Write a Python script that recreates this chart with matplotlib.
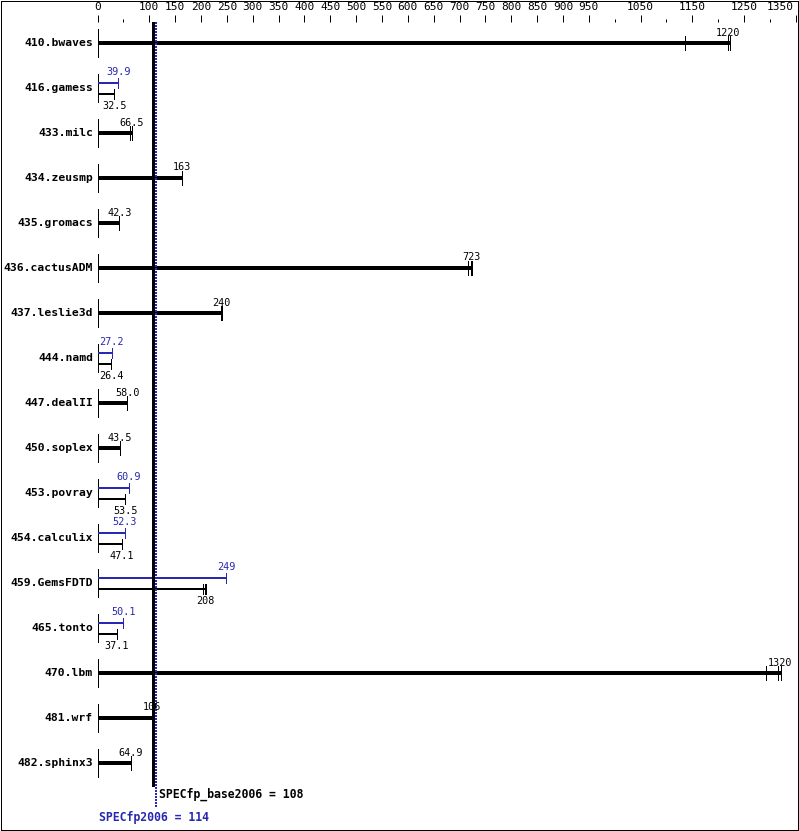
import matplotlib
matplotlib.use('Agg')
import matplotlib.pyplot as plt
from matplotlib.patches import Rectangle
from matplotlib.ticker import FixedLocator, FixedFormatter

plt.rcParams['lines.antialiased'] = False

# ---------------- data ----------------
benchmarks = ["410.bwaves", "416.gamess", "433.milc", "434.zeusmp", "435.gromacs",
              "436.cactusADM", "437.leslie3d", "444.namd", "447.dealII", "450.soplex",
              "453.povray", "454.calculix", "459.GemsFDTD", "465.tonto", "470.lbm",
              "481.wrf", "482.sphinx3"]
base_ratio = [1220, 32.5, 66.5, 163, 42.3, 723, 240, 26.4, 58.0, 43.5,
              53.5, 47.1, 208, 37.1, 1320, 106, 64.9]
base_runs = [[1136, 1220, 1222], [32.5], [63.5, 66.5, 67.0], [163], [42.3],
             [716, 723, 724], [238, 240, 241], [26.4], [58.0], [43.5],
             [53.5], [47.1], [204, 208, 209], [37.1], [1292, 1316, 1322],
             [106], [64.9]]
peak_ratio = [None, 39.9, None, None, None, None, None, 27.2, None, None,
              60.9, 52.3, 249, 50.1, None, None, None]
major_ticks = [0, 100, 150, 200, 250, 300, 350, 400, 450, 500, 550, 600, 650,
               700, 750, 800, 850, 900, 950, 1050, 1150, 1250, 1350]
minor_ticks = [50, 1000, 1100, 1200, 1300]
base_score = 108
peak_score = 114
base_label = "SPECfp_base2006 = 108"
peak_label = "SPECfp2006 = 114"

# ---------------- layout ----------------
W, H = 799, 831
PX0 = 97.5          # pixel of value 0
SLOPE = 0.5172      # pixels per unit
TOP = 22            # pixel of axes top
ROW0, STEP = 43, 45
PT = 0.72           # points per pixel
BLUE = '#2828b0'
MONO = 'DejaVu Sans Mono'

fig = plt.figure(figsize=(W / 100, H / 100), dpi=100)
fig.patch.set_facecolor('white')
left = PX0 / W
ax = fig.add_axes([left, 0, 1 - left, (H - TOP) / H])
ax.set_xlim(0, (W - PX0) / SLOPE)
ax.set_ylim((H - ROW0) / STEP, (TOP - ROW0) / STEP)
for s in ax.spines.values():
    s.set_visible(False)
ax.set_yticks([])
ax.xaxis.tick_top()
ax.xaxis.set_major_locator(FixedLocator(major_ticks))
ax.xaxis.set_major_formatter(FixedFormatter([str(t) for t in major_ticks[:-1]] + ['']))
ax.xaxis.set_minor_locator(FixedLocator(minor_ticks))
ax.tick_params(axis='x', which='major', length=7 * PT, width=PT, pad=2.5,
               labelsize=8, direction='out')
ax.tick_params(axis='x', which='minor', length=3 * PT, width=PT, direction='out')
for lab in ax.get_xticklabels():
    lab.set_fontfamily(MONO)
# last tick label pulled inside the frame, as in the reference
ax.annotate(str(major_ticks[-1]), xy=(major_ticks[-1], (TOP - ROW0) / STEP),
            xytext=(-2.5 * PT, 9.5 * PT), textcoords='offset points',
            ha='right', va='bottom', fontsize=8, family=MONO, annotation_clip=False)

def d(px):
    return px / STEP

def fmt(v):
    return str(int(round(v))) if v >= 100 else f"{v:.1f}"

for i, name in enumerate(benchmarks):
    ax.plot([0, 0], [i - d(14), i + d(14)], color='black', lw=PT, solid_capstyle='butt')
    ax.annotate(name, xy=(0, i), xytext=(-4.5 * PT, 0), textcoords='offset points',
                ha='right', va='center', fontsize=8.2, fontweight='bold', family=MONO)
    runs = base_runs[i]
    if peak_ratio[i] is None:
        y = i
        ax.plot([0, max(runs)], [y, y], color='black', lw=4 * PT, solid_capstyle='butt')
        for r in runs:
            ax.plot([r, r], [y - d(7), y + d(7)], color='black', lw=PT)
        ax.text(base_ratio[i], y - d(10.5), fmt(base_ratio[i]), ha='center', va='center',
                fontsize=7.3, family=MONO)
    else:
        p = peak_ratio[i]
        yb = i - d(5)
        ax.plot([0, p], [yb, yb], color=BLUE, lw=2 * PT, solid_capstyle='butt')
        ax.plot([p, p], [yb - d(5), yb + d(5)], color=BLUE, lw=PT)
        ax.text(p, i - d(16), fmt(p), ha='center', va='center', fontsize=7.3,
                family=MONO, color=BLUE)
        yk = i + d(6)
        ax.plot([0, max(runs)], [yk, yk], color='black', lw=2 * PT, solid_capstyle='butt')
        for r in runs:
            ax.plot([r, r], [yk - d(5), yk + d(5)], color='black', lw=PT)
        ax.text(base_ratio[i], i + d(18), fmt(base_ratio[i]), ha='center', va='center',
                fontsize=7.3, family=MONO)

ytop = (TOP - ROW0) / STEP
ax.plot([base_score, base_score], [ytop, (786 - ROW0) / STEP], color='black',
        lw=3 * PT, solid_capstyle='butt')
ax.plot([peak_score, peak_score], [ytop, (808 - ROW0) / STEP], color=BLUE,
        lw=2 * PT, linestyle=(0, (1, 1)))
ax.annotate(base_label, xy=(peak_score, (794.5 - ROW0) / STEP), xytext=(3 * PT, 0),
            textcoords='offset points', ha='left', va='center', fontsize=8.3,
            fontweight='bold', family=MONO)
ax.annotate(peak_label, xy=(0, (817 - ROW0) / STEP), xytext=(1.5 * PT, 0),
            textcoords='offset points', ha='left', va='center', fontsize=8.3,
            fontweight='bold', family=MONO, color=BLUE)

fig.patches.append(Rectangle((0.5 / W, 1.5 / H), (W - 2) / W, (H - 2) / H,
                             transform=fig.transFigure, fill=False,
                             edgecolor='black', lw=PT, antialiased=False))

fig.savefig('out.png', dpi=100, facecolor='white')
